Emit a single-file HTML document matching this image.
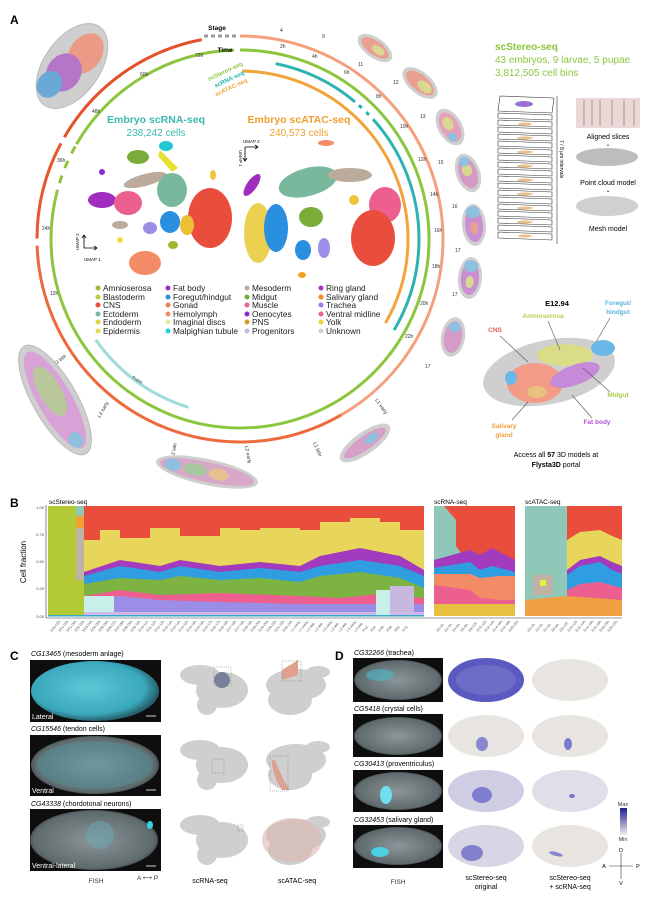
<!DOCTYPE html>
<html><head><meta charset="utf-8">
<style>
html,body{margin:0;padding:0;background:#fff;}
svg{display:block;font-family:"Liberation Sans",Arial,sans-serif;}
</style></head><body>
<svg width="650" height="902" viewBox="0 0 650 902" xmlns="http://www.w3.org/2000/svg">
<defs>
<radialGradient id="emb" cx="50%" cy="50%" r="50%"><stop offset="0" stop-color="#d8d8d8"/><stop offset="1" stop-color="#b8b8b8"/></radialGradient>
<radialGradient id="cy1" cx="45%" cy="45%" r="55%"><stop offset="0" stop-color="#5cc7d6"/><stop offset="0.8" stop-color="#3aa8bb"/><stop offset="1" stop-color="#26606c"/></radialGradient>
<radialGradient id="gr1" cx="50%" cy="50%" r="55%"><stop offset="0" stop-color="#8a9699"/><stop offset="0.85" stop-color="#5f6a6d"/><stop offset="1" stop-color="#2a2f31"/></radialGradient>
<linearGradient id="cbar" x1="0" y1="0" x2="0" y2="1"><stop offset="0" stop-color="#1e1e8c"/><stop offset="1" stop-color="#eeeeee"/></linearGradient>
</defs>

<!-- Panel A -->
<text x="10" y="24" font-size="12" font-weight="bold">A</text>

<g transform="translate(240,239) rotate(-90)" fill="none">
  <circle r="203" stroke="#f4a07c" stroke-width="3" stroke-dasharray="531.5 2000" stroke-dashoffset="0"/>
  <circle r="203" stroke="#ec6a3c" stroke-width="3" stroke-dasharray="418 2000" stroke-dashoffset="-531.5"/>
  <circle r="203" stroke="#e8572e" stroke-width="3" stroke-dasharray="99.2 2000" stroke-dashoffset="-956.6"/>
  <circle r="203" stroke="#e4502a" stroke-width="3" stroke-dasharray="173.6 2000" stroke-dashoffset="-1062.9"/>
  <circle r="189" stroke="#8cc63e" stroke-width="3" stroke-dasharray="940.1 2000" stroke-dashoffset="0"/>
  <circle r="189" stroke="#8cc63e" stroke-width="3" stroke-dasharray="191.3 2000" stroke-dashoffset="-989.6"/>
  <circle r="189" stroke="#8cc63e" stroke-width="3" stroke-dasharray="8 2000" stroke-dashoffset="-947"/>
  <circle r="189" stroke="#8cc63e" stroke-width="3" stroke-dasharray="8 2000" stroke-dashoffset="-963"/>
  <circle r="189" stroke="#8cc63e" stroke-width="3" stroke-dasharray="8 2000" stroke-dashoffset="-979"/>
  <circle r="179" stroke="#2bb3b1" stroke-width="3" stroke-dasharray="89 2000" stroke-dashoffset="-35.9"/>
  <circle r="179" stroke="#2bb3b1" stroke-width="3" stroke-dasharray="4 2000" stroke-dashoffset="-130"/>
  <circle r="179" stroke="#2bb3b1" stroke-width="3" stroke-dasharray="4 2000" stroke-dashoffset="-140"/>
  <circle r="179" stroke="#2bb3b1" stroke-width="3" stroke-dasharray="226.8 2000" stroke-dashoffset="-149.9"/>
  <circle r="168" stroke="#f2a33a" stroke-width="3" stroke-dasharray="349.8 2000" stroke-dashoffset="-2.05"/>
  <circle r="176" stroke="#9ddcd8" stroke-width="3" stroke-dasharray="116.7 2000" stroke-dashoffset="-605.1"/>
</g>
<line x1="204" y1="36" x2="238" y2="36" stroke="#999" stroke-width="3" stroke-dasharray="4 3"/>

<text x="217" y="30" font-size="6.5" font-weight="bold" text-anchor="middle">Stage</text>
<text x="225" y="52" font-size="6.5" font-weight="bold" text-anchor="middle">Time</text>
<text x="226" y="73" font-size="6" fill="#8cc63e" font-weight="bold" transform="rotate(-25 226 73)" text-anchor="middle">scStereo-seq</text>
<text x="230" y="81" font-size="6" fill="#2bb3b1" font-weight="bold" transform="rotate(-25 230 81)" text-anchor="middle">scRNA-seq</text>
<text x="232" y="89" font-size="6" fill="#f2a33a" font-weight="bold" transform="rotate(-25 232 89)" text-anchor="middle">scATAC-seq</text>

<g font-size="5" fill="#333">
<text x="280" y="48">2h</text><text x="312" y="58">4h</text><text x="344" y="74">6h</text><text x="376" y="98">8h</text>
<text x="400" y="128">10h</text><text x="418" y="161">12h</text><text x="430" y="196">14h</text><text x="434" y="232">16h</text>
<text x="432" y="268">18h</text><text x="420" y="305">20h</text><text x="405" y="338">22h</text>
<text x="57" y="162">36h</text><text x="42" y="230">24h</text><text x="50" y="295">12h</text><text x="92" y="113">48h</text><text x="140" y="76">60h</text><text x="195" y="57">72h</text>
<text x="280" y="32">4</text><text x="322" y="38">9</text><text x="358" y="66">11</text><text x="393" y="84">12</text><text x="420" y="118">13</text><text x="438" y="164">15</text><text x="452" y="208">16</text><text x="455" y="252">17</text><text x="452" y="296">17</text><text x="442" y="336">17</text><text x="425" y="368">17</text>
<text x="55" y="366" transform="rotate(-40 55 366)">L3 late</text>
<text x="100" y="418" transform="rotate(-60 100 418)">L3 early</text>
<text x="174" y="458" transform="rotate(-80 174 458)">L2 late</text>
<text x="245" y="446" transform="rotate(80 245 446)">L2 early</text>
<text x="313" y="443" transform="rotate(65 313 443)">L1 late</text>
<text x="375" y="400" transform="rotate(55 375 400)">L1 early</text>
<text x="132" y="378" transform="rotate(30 132 378)" font-size="4">Pupae</text>
</g>

<!-- embryos around circle -->
<g>
<g transform="translate(72,66) rotate(-55)"><ellipse rx="48" ry="28" fill="#cfcfcf" stroke="#bbb"/><ellipse cx="18" cy="4" rx="22" ry="16" fill="#ea9a85"/><ellipse cx="-10" cy="-3" rx="20" ry="17" fill="#b576c8"/><ellipse cx="-28" cy="-8" rx="14" ry="12" fill="#6aa9d6"/></g>
<g transform="translate(375,48) rotate(35)"><ellipse rx="20" ry="10" fill="#cfcfcf"/><ellipse rx="16" ry="7" fill="#e9a090"/><ellipse cx="4" rx="7" ry="4" fill="#d8d890"/></g>
<g transform="translate(420,83) rotate(40)"><ellipse rx="21" ry="11" fill="#cfcfcf"/><ellipse rx="17" ry="8" fill="#e9a090"/><ellipse cx="6" rx="8" ry="5" fill="#d8d890"/></g>
<g transform="translate(450,127) rotate(60)"><ellipse rx="20" ry="12" fill="#cfcfcf"/><ellipse rx="16" ry="9" fill="#e3a0b8"/><ellipse cx="-4" rx="7" ry="5" fill="#d8d890"/><ellipse cx="10" cy="3" rx="5" ry="4" fill="#8ec0e0"/></g>
<g transform="translate(468,173) rotate(70)"><ellipse rx="20" ry="12" fill="#cfcfcf"/><ellipse rx="16" ry="9" fill="#d49ac4"/><ellipse cx="-3" rx="6" ry="5" fill="#d8d890"/><ellipse cx="-12" rx="5" ry="5" fill="#8ec0e0"/></g>
<g transform="translate(474,225) rotate(85)"><ellipse rx="21" ry="12" fill="#cfcfcf"/><ellipse rx="17" ry="9" fill="#c98fd0"/><ellipse cx="-13" rx="6" ry="7" fill="#8ec0e0"/><ellipse cx="3" rx="6" ry="4" fill="#e8a090"/></g>
<g transform="translate(470,278) rotate(95)"><ellipse rx="21" ry="12" fill="#cfcfcf"/><ellipse rx="17" ry="9" fill="#c98fd0"/><ellipse cx="-12" rx="6" ry="7" fill="#8ec0e0"/><ellipse cx="4" rx="6" ry="4" fill="#d8d890"/></g>
<g transform="translate(453,337) rotate(100)"><ellipse rx="20" ry="12" fill="#cfcfcf"/><ellipse rx="16" ry="9" fill="#d59ac8"/><ellipse cx="-10" rx="5" ry="6" fill="#8ec0e0"/></g>
<g transform="translate(365,443) rotate(-35)"><ellipse rx="30" ry="11" fill="#cfcfcf"/><ellipse rx="25" ry="7" fill="#d8a0c8"/><ellipse cx="8" rx="8" ry="4" fill="#8ec0e0"/></g>
<g transform="translate(207,472) rotate(12)"><ellipse rx="52" ry="13" fill="#cfcfcf"/><ellipse rx="48" ry="10" fill="#d8a8c8"/><ellipse cx="-12" rx="12" ry="6" fill="#a8c8a0"/><ellipse cx="12" rx="10" ry="6" fill="#e8c090"/><ellipse cx="-35" rx="8" ry="6" fill="#8ec0e0"/></g>
<g transform="translate(55,400) rotate(60)"><ellipse rx="62" ry="22" fill="#cfcfcf" stroke="#bbb"/><ellipse rx="55" ry="17" fill="#d9a2d6"/><ellipse cx="-10" rx="28" ry="11" fill="#b8c89a"/><ellipse cx="45" cy="2" rx="8" ry="7" fill="#8ec0e0"/></g>
</g>

<!-- scRNA / scATAC titles -->
<text x="156" y="123" font-size="10.5" font-weight="bold" fill="#3bb8b0" text-anchor="middle">Embryo scRNA-seq</text>
<text x="156" y="136" font-size="10" fill="#3bb8b0" text-anchor="middle">238,242 cells</text>
<text x="299" y="123" font-size="10.5" font-weight="bold" fill="#f0a030" text-anchor="middle">Embryo scATAC-seq</text>
<text x="299" y="136" font-size="10" fill="#f0a030" text-anchor="middle">240,573 cells</text>

<!-- scRNA UMAP -->
<g>
<ellipse cx="138" cy="157" rx="11" ry="7" fill="#7aac3a"/>
<ellipse cx="166" cy="146" rx="7" ry="5" fill="#21c8d3"/>
<path d="M160 150 L178 168 L172 172 L158 156Z" fill="#e8e030"/>
<ellipse cx="145" cy="180" rx="22" ry="6" fill="#bcab9c" transform="rotate(-15 145 180)"/>
<ellipse cx="172" cy="190" rx="15" ry="17" fill="#7ab89e"/>
<ellipse cx="102" cy="200" rx="14" ry="8" fill="#a02dbd"/>
<ellipse cx="128" cy="203" rx="14" ry="12" fill="#ec5f90"/>
<ellipse cx="210" cy="218" rx="22" ry="30" fill="#e94e3c"/>
<ellipse cx="170" cy="222" rx="10" ry="11" fill="#2b8fe0"/>
<ellipse cx="187" cy="225" rx="7" ry="10" fill="#ecc035"/>
<ellipse cx="150" cy="228" rx="7" ry="6" fill="#9c8ee6"/>
<ellipse cx="120" cy="225" rx="8" ry="4" fill="#bcab9c"/>
<ellipse cx="145" cy="263" rx="16" ry="12" fill="#f38c66"/>
<ellipse cx="173" cy="245" rx="5" ry="4" fill="#a2b832"/>
<ellipse cx="102" cy="172" rx="3" ry="3" fill="#8b2bd1"/>
<ellipse cx="213" cy="175" rx="3" ry="5" fill="#f4c23c"/>
<ellipse cx="120" cy="240" rx="3" ry="3" fill="#e8e050"/>
</g>
<g stroke="#000" stroke-width="0.8" fill="none"><path d="M84 235 V248 H97"/><path d="M82 238 L84 235 L86 238 M94 246 L97 248 L94 250"/></g>
<text x="79" y="250" font-size="4.5" transform="rotate(-90 79 250)">UMAP 2</text>
<text x="84" y="261" font-size="4.5">UMAP 1</text>
<!-- scATAC UMAP -->
<g>
<ellipse cx="252" cy="185" rx="5" ry="13" fill="#a02dbd" transform="rotate(35 252 185)"/>
<ellipse cx="326" cy="143" rx="8" ry="3" fill="#f38c66"/>
<ellipse cx="308" cy="182" rx="30" ry="14" fill="#7ab89e" transform="rotate(-15 308 182)"/>
<ellipse cx="350" cy="175" rx="22" ry="7" fill="#bcab9c"/>
<ellipse cx="385" cy="205" rx="16" ry="18" fill="#ec5f90"/>
<ellipse cx="258" cy="233" rx="14" ry="30" fill="#ecd050"/>
<ellipse cx="276" cy="228" rx="12" ry="24" fill="#2b8fe0"/>
<ellipse cx="311" cy="217" rx="12" ry="10" fill="#7aac3a"/>
<ellipse cx="373" cy="238" rx="22" ry="28" fill="#e94e3c"/>
<ellipse cx="303" cy="250" rx="8" ry="10" fill="#2b8fe0"/>
<ellipse cx="324" cy="248" rx="6" ry="10" fill="#9c8ee6"/>
<ellipse cx="302" cy="275" rx="4" ry="3" fill="#f4a020"/>
<ellipse cx="354" cy="200" rx="5" ry="5" fill="#f4c23c"/>
</g>
<g stroke="#000" stroke-width="0.8" fill="none"><path d="M245 147 H258 M245 147 V161"/><path d="M255 145 L258 147 L255 149 M243 158 L245 161 L247 158"/></g>
<text x="243" y="143" font-size="4.5">UMAP 2</text>
<text x="239" y="150" font-size="4.5" transform="rotate(90 239 150)">UMAP 1</text>

<!-- legend -->
<g font-size="8.3" fill="#222">
<circle cx="98" cy="288" r="2.5" fill="#a2b832"/><text x="103" y="291">Amnioserosa</text>
<circle cx="98" cy="297" r="2.5" fill="#bccd3a"/><text x="103" y="300">Blastoderm</text>
<circle cx="98" cy="305" r="2.5" fill="#e94e3c"/><text x="103" y="308">CNS</text>
<circle cx="98" cy="314" r="2.5" fill="#7ab89e"/><text x="103" y="317">Ectoderm</text>
<circle cx="98" cy="322" r="2.5" fill="#d6d640"/><text x="103" y="325">Endoderm</text>
<circle cx="98" cy="331" r="2.5" fill="#e8d85a"/><text x="103" y="334">Epidermis</text>
<circle cx="168" cy="288" r="2.5" fill="#a02dbd"/><text x="173" y="291">Fat body</text>
<circle cx="168" cy="297" r="2.5" fill="#2b8fe0"/><text x="173" y="300">Foregut/hindgut</text>
<circle cx="168" cy="305" r="2.5" fill="#e8865a"/><text x="173" y="308">Gonad</text>
<circle cx="168" cy="314" r="2.5" fill="#f38c66"/><text x="173" y="317">Hemolymph</text>
<circle cx="168" cy="322" r="2.5" fill="#e8e8a8"/><text x="173" y="325">Imaginal discs</text>
<circle cx="168" cy="331" r="2.5" fill="#21d3d3"/><text x="173" y="334">Malpighian tubule</text>
<circle cx="247" cy="288" r="2.5" fill="#bcab9c"/><text x="252" y="291">Mesoderm</text>
<circle cx="247" cy="297" r="2.5" fill="#7aac3a"/><text x="252" y="300">Midgut</text>
<circle cx="247" cy="305" r="2.5" fill="#ec5f90"/><text x="252" y="308">Muscle</text>
<circle cx="247" cy="314" r="2.5" fill="#8b2bd1"/><text x="252" y="317">Oenocytes</text>
<circle cx="247" cy="322" r="2.5" fill="#d4a020"/><text x="252" y="325">PNS</text>
<circle cx="247" cy="331" r="2.5" fill="#c8b8e8"/><text x="252" y="334">Progenitors</text>
<circle cx="321" cy="288" r="2.5" fill="#b030c8"/><text x="326" y="291">Ring gland</text>
<circle cx="321" cy="297" r="2.5" fill="#f08a20"/><text x="326" y="300">Salivary gland</text>
<circle cx="321" cy="305" r="2.5" fill="#9c7ee6"/><text x="326" y="308">Trachea</text>
<circle cx="321" cy="314" r="2.5" fill="#ec5f8e"/><text x="326" y="317">Ventral midline</text>
<circle cx="321" cy="322" r="2.5" fill="#e8d83a"/><text x="326" y="325">Yolk</text>
<circle cx="321" cy="331" r="2.5" fill="#c8d8d0"/><text x="326" y="334">Unknown</text>
</g>

<!-- scStereo info -->
<text x="495" y="50" font-size="10" font-weight="bold" fill="#8cc63e">scStereo-seq</text>
<text x="495" y="63" font-size="10" fill="#8cc63e">43 embryos, 9 larvae, 5 pupae</text>
<text x="495" y="76" font-size="10" fill="#8cc63e">3,812,505 cell bins</text>
<g stroke="#333" stroke-width="0.6" fill="#fff">
<polygon points="500,96 554,98 552,113 498,111"/>
<polygon points="498,113 552,115 552,120 498,118"/><polygon points="498,120 552,122 552,127 498,125"/>
<polygon points="498,127 552,129 552,134 498,132"/><polygon points="498,134 552,136 552,141 498,139"/>
<polygon points="498,141 552,143 552,148 498,146"/><polygon points="498,148 552,150 552,155 498,153"/>
<polygon points="498,155 552,157 552,162 498,160"/><polygon points="498,162 552,164 552,169 498,167"/>
<polygon points="498,169 552,171 552,176 498,174"/><polygon points="498,176 552,178 552,183 498,181"/>
<polygon points="498,183 552,185 552,190 498,188"/><polygon points="498,190 552,192 552,197 498,195"/>
<polygon points="498,197 552,199 552,204 498,202"/><polygon points="498,204 552,206 552,211 498,209"/>
<polygon points="498,211 552,213 552,218 498,216"/><polygon points="498,218 552,220 552,225 498,223"/>
<polygon points="498,225 552,227 552,232 498,230"/><polygon points="498,232 552,234 552,240 498,238"/>
</g>
<ellipse cx="524" cy="104" rx="9" ry="3" fill="#9a70d0"/>
<g fill="#e8b070" opacity="0.8">
<ellipse cx="525" cy="124" rx="7" ry="1.5"/><ellipse cx="525" cy="138" rx="8" ry="1.5"/><ellipse cx="525" cy="152" rx="8" ry="1.5"/><ellipse cx="525" cy="166" rx="8" ry="1.5"/><ellipse cx="525" cy="180" rx="8" ry="1.5"/><ellipse cx="525" cy="194" rx="8" ry="1.5"/><ellipse cx="525" cy="208" rx="8" ry="1.5"/><ellipse cx="525" cy="222" rx="8" ry="1.5"/><ellipse cx="525" cy="236" rx="7" ry="1.5"/>
</g>
<line x1="557" y1="96" x2="557" y2="244" stroke="#333" stroke-width="0.6"/>
<text x="560" y="140" font-size="5" transform="rotate(90 560 140)">7 / 8 μm intervals</text>
<rect x="576" y="98" width="64" height="30" fill="#e8d8d8"/>
<g stroke="#c05050" stroke-width="1" opacity="0.6"><line x1="584" y1="100" x2="584" y2="126"/><line x1="592" y1="100" x2="592" y2="126"/><line x1="600" y1="100" x2="600" y2="126"/><line x1="612" y1="100" x2="612" y2="126"/><line x1="624" y1="100" x2="624" y2="126"/><line x1="634" y1="100" x2="634" y2="126"/></g>
<text x="608" y="139" font-size="7" text-anchor="middle">Aligned slices</text>
<text x="608" y="146" font-size="6" text-anchor="middle">⌄</text>
<ellipse cx="607" cy="157" rx="31" ry="9" fill="#bdbdbd"/>
<text x="608" y="185" font-size="7" text-anchor="middle">Point cloud model</text>
<text x="608" y="192" font-size="6" text-anchor="middle">⌄</text>
<ellipse cx="607" cy="206" rx="31" ry="10" fill="#d0d0d0"/>
<text x="608" y="231" font-size="7" text-anchor="middle">Mesh model</text>

<!-- 3D model -->
<text x="557" y="306" font-size="7.5" font-weight="bold" text-anchor="middle">E12.94</text>
<text x="618" y="305" font-size="6.5" font-weight="bold" fill="#5ab4e0" text-anchor="middle">Foregut/</text>
<text x="618" y="314" font-size="6.5" font-weight="bold" fill="#5ab4e0" text-anchor="middle">hindgut</text>
<text x="543" y="318" font-size="6.5" font-weight="bold" fill="#b8d050" text-anchor="middle">Amnioserosa</text>
<text x="495" y="332" font-size="6.5" font-weight="bold" fill="#e8604a" text-anchor="middle">CNS</text>
<ellipse cx="549" cy="372" rx="67" ry="32" fill="#cfcfcf" transform="rotate(-12 549 372)"/>
<ellipse cx="535" cy="383" rx="28" ry="20" fill="#f39b86"/>
<ellipse cx="565" cy="355" rx="28" ry="11" fill="#dadc88"/>
<ellipse cx="575" cy="375" rx="26" ry="10" fill="#c58ad8" transform="rotate(-20 575 375)"/>
<ellipse cx="603" cy="348" rx="12" ry="8" fill="#6bb8e8"/>
<ellipse cx="511" cy="378" rx="6" ry="7" fill="#6bb8e8"/>
<ellipse cx="537" cy="392" rx="10" ry="6" fill="#e8c080"/>
<g stroke="#555" stroke-width="0.6"><line x1="500" y1="336" x2="528" y2="362"/><line x1="548" y1="321" x2="560" y2="350"/><line x1="610" y1="318" x2="596" y2="342"/><line x1="610" y1="392" x2="583" y2="368"/><line x1="592" y1="418" x2="572" y2="395"/><line x1="512" y1="420" x2="528" y2="402"/></g>
<text x="618" y="397" font-size="6.5" font-weight="bold" fill="#a8c850" text-anchor="middle">Midgut</text>
<text x="597" y="424" font-size="6.5" font-weight="bold" fill="#b050d0" text-anchor="middle">Fat body</text>
<text x="504" y="428" font-size="6.5" font-weight="bold" fill="#f0a040" text-anchor="middle">Salivary</text>
<text x="504" y="437" font-size="6.5" font-weight="bold" fill="#f0a040" text-anchor="middle">gland</text>
<text x="556" y="457" font-size="7" text-anchor="middle">Access all <tspan font-weight="bold">57</tspan> 3D models at</text>
<text x="556" y="467" font-size="7" text-anchor="middle"><tspan font-weight="bold">Flysta3D</tspan> portal</text>

<!-- Panel B -->
<text x="10" y="507" font-size="12" font-weight="bold">B</text>
<text x="49" y="504" font-size="6.5">scStereo-seq</text>
<text x="434" y="504" font-size="6.5">scRNA-seq</text>
<text x="525" y="504" font-size="6.5">scATAC-seq</text>
<text x="26" y="562" font-size="8" text-anchor="middle" transform="rotate(-90 26 562)">Cell fraction</text>
<g font-size="4" fill="#444" text-anchor="end"><text x="44" y="509">1.00</text><text x="44" y="536">0.75</text><text x="44" y="563">0.50</text><text x="44" y="590">0.25</text><text x="44" y="618">0.00</text></g>
<line x1="46" y1="505" x2="46" y2="618" stroke="#333" stroke-width="0.6"/>
<line x1="46" y1="618" x2="622" y2="618" stroke="#333" stroke-width="0.6"/>
<!-- stereo -->
<rect x="48" y="506" width="28" height="110" fill="#b3c935"/>
<rect x="76" y="506" width="8" height="10" fill="#8fc8b8"/><rect x="76" y="516" width="8" height="12" fill="#f0a030"/><rect x="76" y="528" width="8" height="52" fill="#bfb3a3"/><rect x="76" y="580" width="8" height="36" fill="#b3c935"/>
<rect x="84" y="506" width="340" height="110" fill="#e8d65c"/>
<path d="M84 506 H424 V530 L400 530 V522 L380 522 V518 L350 518 V522 L320 522 V530 L300 530 V528 L260 528 V530 L240 530 V528 L220 528 V536 L180 536 V528 L150 528 V538 L120 538 V530 L100 530 V540 L84 540Z" fill="#e94e3c"/>
<path d="M84 572 L120 560 L160 566 L180 560 L220 566 L260 562 L300 566 L320 556 L360 548 L400 556 L424 570 V598 H84Z" fill="#a23bbd"/>
<path d="M84 576 L120 566 L160 572 L180 566 L220 572 L260 568 L300 572 L320 566 L360 560 L400 566 L424 576 V598 H84Z" fill="#2f9ee0"/>
<path d="M84 584 L120 578 L160 580 L180 576 L220 580 L260 578 L300 582 L320 576 L360 572 L400 578 L424 588 V600 H84Z" fill="#7cb342"/>
<path d="M84 596 L120 590 L160 595 L220 593 L300 596 L340 598 L380 594 L424 598 V608 H84Z" fill="#ec5f8e"/>
<path d="M84 600 L120 596 L160 600 L220 602 L300 604 L424 604 V612 H84Z" fill="#9c8ee6"/>
<rect x="84" y="596" width="30" height="20" fill="#c8f0e8"/>
<rect x="84" y="612" width="340" height="4" fill="#d0b8e8"/>
<rect x="376" y="590" width="14" height="26" fill="#c8f0e8"/>
<rect x="390" y="586" width="24" height="26" fill="#c8b8e0"/>
<rect x="48" y="615" width="376" height="1.5" fill="#3aa8d0"/>
<!-- scRNA -->
<rect x="434" y="506" width="81" height="110" fill="#e94e3c"/>
<path d="M434 506 H444 L456 520 V546 L466 560 H434Z" fill="#8fc8b8"/>
<path d="M434 560 L470 550 L480 555 L492 548 L515 560 V616 H434Z" fill="#a23bbd"/>
<path d="M434 568 L470 562 L480 570 L492 566 L515 572 V616 H434Z" fill="#2f9ee0"/>
<path d="M434 574 L470 574 L480 578 L500 576 L515 576 V616 H434Z" fill="#f38c66"/>
<path d="M434 585 L470 590 L480 598 L500 600 L515 600 V616 H434Z" fill="#ec5f8e"/>
<path d="M434 604 H515 V616 H434Z" fill="#e8c040"/>
<!-- scATAC -->
<rect x="525" y="506" width="97" height="110" fill="#e94e3c"/>
<rect x="525" y="506" width="42" height="104" fill="#8fc8b8"/>
<path d="M567 540 L580 532 L600 530 L612 536 L622 540 V616 H567Z" fill="#e8d65c"/>
<path d="M567 570 L580 560 L600 556 L612 562 L622 566 V616 H567Z" fill="#a23bbd"/>
<path d="M567 575 L580 566 L600 562 L612 570 L622 574 V616 H567Z" fill="#2f9ee0"/>
<path d="M567 590 L580 584 L600 582 L622 588 V616 H567Z" fill="#ec5f8e"/>
<path d="M525 600 L567 596 L622 600 V616 H525Z" fill="#f0a040"/>
<rect x="533" y="575" width="20" height="20" fill="#bfb3a3"/>
<rect x="540" y="580" width="6" height="6" fill="#e8f040"/>
<g font-size="3.6" fill="#555">
<text transform="translate(52,632) rotate(-50)">E00-02h</text><text transform="translate(60,632) rotate(-50)">E01-03h</text><text transform="translate(68,632) rotate(-50)">E01-06h</text><text transform="translate(76,632) rotate(-50)">E02-03h</text><text transform="translate(84,632) rotate(-50)">E03-04h</text><text transform="translate(92,632) rotate(-50)">E04-05h</text><text transform="translate(100,632) rotate(-50)">E05-06h</text><text transform="translate(108,632) rotate(-50)">E06-07h</text><text transform="translate(116,632) rotate(-50)">E07-08h</text><text transform="translate(124,632) rotate(-50)">E08-09h</text><text transform="translate(132,632) rotate(-50)">E09-10h</text><text transform="translate(140,632) rotate(-50)">E10-11h</text><text transform="translate(148,632) rotate(-50)">E11-12h</text><text transform="translate(156,632) rotate(-50)">E12-13h</text><text transform="translate(164,632) rotate(-50)">E12-14h</text><text transform="translate(172,632) rotate(-50)">E13-14h</text><text transform="translate(180,632) rotate(-50)">E14-15h</text><text transform="translate(188,632) rotate(-50)">E14-16h</text><text transform="translate(196,632) rotate(-50)">E15-16h</text><text transform="translate(204,632) rotate(-50)">E15-17h</text><text transform="translate(212,632) rotate(-50)">E16-17h</text><text transform="translate(220,632) rotate(-50)">E16-18h</text><text transform="translate(228,632) rotate(-50)">E17-18h</text><text transform="translate(236,632) rotate(-50)">E17-19h</text><text transform="translate(244,632) rotate(-50)">E18-19h</text><text transform="translate(252,632) rotate(-50)">E18-20h</text><text transform="translate(260,632) rotate(-50)">E19-20h</text><text transform="translate(268,632) rotate(-50)">E20-22h</text><text transform="translate(276,632) rotate(-50)">E21-22h</text><text transform="translate(284,632) rotate(-50)">E22-24h</text><text transform="translate(292,632) rotate(-50)">L1-early</text><text transform="translate(300,632) rotate(-50)">L1-early</text><text transform="translate(308,632) rotate(-50)">L1-late</text><text transform="translate(316,632) rotate(-50)">L1-late</text><text transform="translate(324,632) rotate(-50)">L2-early</text><text transform="translate(332,632) rotate(-50)">L2-late</text><text transform="translate(340,632) rotate(-50)">L2-late</text><text transform="translate(348,632) rotate(-50)">L3-early</text><text transform="translate(356,632) rotate(-50)">L3-late</text><text transform="translate(364,632) rotate(-50)">P12</text><text transform="translate(372,632) rotate(-50)">P24</text><text transform="translate(380,632) rotate(-50)">P36</text><text transform="translate(388,632) rotate(-50)">P48</text><text transform="translate(396,632) rotate(-50)">P60</text><text transform="translate(404,632) rotate(-50)">P72</text>
<text transform="translate(438,632) rotate(-50)">E0-2h</text><text transform="translate(446,632) rotate(-50)">E2-4h</text><text transform="translate(454,632) rotate(-50)">E4-6h</text><text transform="translate(462,632) rotate(-50)">E6-8h</text><text transform="translate(470,632) rotate(-50)">E8-10h</text><text transform="translate(478,632) rotate(-50)">E10-12h</text><text transform="translate(486,632) rotate(-50)">E12-14h</text><text transform="translate(494,632) rotate(-50)">E14-16h</text><text transform="translate(502,632) rotate(-50)">E16-18h</text><text transform="translate(510,632) rotate(-50)">E20-22h</text>
<text transform="translate(529,632) rotate(-50)">E0-2h</text><text transform="translate(537,632) rotate(-50)">E2-4h</text><text transform="translate(545,632) rotate(-50)">E4-6h</text><text transform="translate(553,632) rotate(-50)">E6-8h</text><text transform="translate(561,632) rotate(-50)">E8-10h</text><text transform="translate(569,632) rotate(-50)">E10-12h</text><text transform="translate(577,632) rotate(-50)">E12-14h</text><text transform="translate(585,632) rotate(-50)">E14-16h</text><text transform="translate(593,632) rotate(-50)">E16-18h</text><text transform="translate(601,632) rotate(-50)">E18-20h</text><text transform="translate(609,632) rotate(-50)">E20-22h</text>
</g>

<!-- Panel C -->
<text x="10" y="660" font-size="12" font-weight="bold">C</text>
<text x="31" y="656" font-size="7"><tspan font-style="italic">CG13465</tspan> (mesoderm anlage)</text>
<rect x="30" y="660" width="131" height="62" fill="#0e0e0e"/>
<ellipse cx="95" cy="691" rx="64" ry="30" fill="url(#cy1)"/>
<text x="32" y="719" font-size="7" fill="#fff">Lateral</text>
<line x1="146" y1="716" x2="156" y2="716" stroke="#ccc" stroke-width="1"/>
<text x="31" y="731" font-size="7"><tspan font-style="italic">CG15546</tspan> (tendon cells)</text>
<rect x="30" y="735" width="131" height="61" fill="#0e0e0e"/>
<ellipse cx="95" cy="765" rx="64" ry="29" fill="url(#gr1)"/>
<ellipse cx="95" cy="765" rx="58" ry="24" fill="#4a9aa8" opacity="0.4"/>
<text x="32" y="793" font-size="7" fill="#fff">Ventral</text>
<line x1="146" y1="790" x2="156" y2="790" stroke="#ccc" stroke-width="1"/>
<text x="31" y="806" font-size="7"><tspan font-style="italic">CG43338</tspan> (chordotonal neurons)</text>
<rect x="30" y="809" width="131" height="62" fill="#0e0e0e"/>
<ellipse cx="94" cy="840" rx="64" ry="30" fill="url(#gr1)"/>
<ellipse cx="100" cy="835" rx="14" ry="14" fill="#6aa8b4" opacity="0.5"/>
<ellipse cx="150" cy="825" rx="3" ry="4" fill="#3cd0e0"/>
<text x="32" y="868" font-size="7" fill="#fff">Ventral-lateral</text>
<line x1="146" y1="866" x2="156" y2="866" stroke="#ccc" stroke-width="1"/>
<text x="96" y="883" font-size="6.5" fill="#333" text-anchor="middle">FISH</text>
<text x="137" y="880" font-size="6.5" fill="#333">A ⟷ P</text>
<g fill="#cfcfcf">
<g transform="translate(0,0)"><ellipse cx="200" cy="675" rx="20" ry="10"/><ellipse cx="222" cy="690" rx="26" ry="18"/><ellipse cx="207" cy="705" rx="10" ry="10"/></g>
<g transform="translate(0,75)"><ellipse cx="200" cy="675" rx="20" ry="10"/><ellipse cx="222" cy="690" rx="26" ry="18"/><ellipse cx="207" cy="705" rx="10" ry="10"/></g>
<g transform="translate(0,150)"><ellipse cx="200" cy="675" rx="20" ry="10"/><ellipse cx="222" cy="690" rx="26" ry="18"/><ellipse cx="207" cy="705" rx="10" ry="10"/></g>
<g transform="translate(0,0)"><ellipse cx="296" cy="685" rx="30" ry="16"/><ellipse cx="290" cy="700" rx="22" ry="15"/><ellipse cx="318" cy="672" rx="12" ry="6"/></g>
<g transform="translate(0,75)"><ellipse cx="296" cy="685" rx="30" ry="16"/><ellipse cx="290" cy="700" rx="22" ry="15"/><ellipse cx="318" cy="672" rx="12" ry="6"/></g>
<g transform="translate(0,150)"><ellipse cx="296" cy="685" rx="30" ry="16"/><ellipse cx="290" cy="700" rx="22" ry="15"/><ellipse cx="318" cy="672" rx="12" ry="6"/></g>
</g>
<ellipse cx="222" cy="680" rx="8" ry="8" fill="#7a7f9a"/>
<rect x="214" y="667" width="17" height="19" fill="none" stroke="#777" stroke-width="0.5" stroke-dasharray="1 1"/>
<path d="M282 670 L298 660 L298 675 L282 680Z" fill="#e0a090"/>
<rect x="282" y="661" width="19" height="20" fill="none" stroke="#777" stroke-width="0.5" stroke-dasharray="1 1"/>
<rect x="212" y="759" width="12" height="14" fill="none" stroke="#777" stroke-width="0.5" stroke-dasharray="1 1"/>
<path d="M275 760 Q285 785 290 790 L282 790 Q272 775 272 760Z" fill="#dca090"/>
<rect x="270" y="756" width="18" height="35" fill="none" stroke="#777" stroke-width="0.5" stroke-dasharray="1 1"/>
<ellipse cx="292" cy="840" rx="30" ry="22" fill="#dcb8b0" opacity="0.6"/>
<rect x="238" y="825" width="5" height="6" fill="none" stroke="#777" stroke-width="0.5" stroke-dasharray="1 1"/>
<text x="210" y="883" font-size="7" text-anchor="middle">scRNA-seq</text>
<text x="297" y="883" font-size="7" text-anchor="middle">scATAC-seq</text>

<!-- Panel D -->
<text x="335" y="660" font-size="12" font-weight="bold">D</text>
<text x="354" y="655" font-size="7"><tspan font-style="italic">CG32266</tspan> (trachea)</text>
<text x="354" y="711" font-size="7"><tspan font-style="italic">CG5418</tspan> (crystal cells)</text>
<text x="354" y="766" font-size="7"><tspan font-style="italic">CG30413</tspan> (proventriculus)</text>
<text x="354" y="822" font-size="7"><tspan font-style="italic">CG32453</tspan> (salivary gland)</text>
<g>
<rect x="353" y="658" width="90" height="44" fill="#0e0e0e"/><ellipse cx="398" cy="680" rx="44" ry="20" fill="url(#gr1)"/><ellipse cx="380" cy="675" rx="14" ry="6" fill="#4ab8c8" opacity="0.6"/>
<rect x="353" y="714" width="90" height="43" fill="#0e0e0e"/><ellipse cx="398" cy="736" rx="44" ry="19" fill="url(#gr1)"/>
<rect x="353" y="770" width="90" height="42" fill="#0e0e0e"/><ellipse cx="398" cy="791" rx="44" ry="19" fill="url(#gr1)"/><ellipse cx="386" cy="795" rx="6" ry="9" fill="#70e0f0"/>
<rect x="353" y="825" width="90" height="43" fill="#0e0e0e"/><ellipse cx="398" cy="846" rx="44" ry="19" fill="url(#gr1)"/><ellipse cx="380" cy="852" rx="9" ry="5" fill="#4ad0e0"/>
</g>
<g fill="#e8e4e0">
<ellipse cx="486" cy="680" rx="38" ry="22" fill="#5a5ac0"/>
<ellipse cx="570" cy="680" rx="38" ry="21"/>
<ellipse cx="486" cy="736" rx="38" ry="21"/>
<ellipse cx="570" cy="736" rx="38" ry="21"/>
<ellipse cx="486" cy="791" rx="38" ry="21" fill="#cfcde4"/>
<ellipse cx="570" cy="791" rx="38" ry="21" fill="#e0dee8"/>
<ellipse cx="486" cy="846" rx="38" ry="21" fill="#d8d6e4"/>
<ellipse cx="570" cy="846" rx="38" ry="21"/>
</g>
<ellipse cx="486" cy="680" rx="30" ry="15" fill="#8080d0" opacity="0.5"/>
<ellipse cx="482" cy="744" rx="6" ry="7" fill="#6060c8" opacity="0.7"/>
<ellipse cx="568" cy="744" rx="4" ry="6" fill="#5050c0" opacity="0.7"/>
<ellipse cx="482" cy="795" rx="10" ry="8" fill="#4848c0" opacity="0.6"/>
<ellipse cx="572" cy="796" rx="3" ry="2" fill="#4848c0" opacity="0.7"/>
<ellipse cx="472" cy="853" rx="11" ry="8" fill="#4848c0" opacity="0.6"/>
<ellipse cx="556" cy="854" rx="7" ry="2" fill="#4848c0" opacity="0.6" transform="rotate(15 556 854)"/>
<rect x="620" y="808" width="7" height="27" fill="url(#cbar)"/>
<text x="623" y="806" font-size="5.5" text-anchor="middle" fill="#333">Max</text>
<text x="623" y="841" font-size="5.5" text-anchor="middle" fill="#333">Min</text>
<g stroke="#333" stroke-width="0.6"><line x1="609" y1="866" x2="633" y2="866"/><line x1="621" y1="853" x2="621" y2="879"/></g>
<text x="621" y="852" font-size="5.5" text-anchor="middle">D</text>
<text x="621" y="885" font-size="5.5" text-anchor="middle">V</text>
<text x="604" y="868" font-size="5.5" text-anchor="middle">A</text>
<text x="638" y="868" font-size="5.5" text-anchor="middle">P</text>
<text x="398" y="884" font-size="6.5" text-anchor="middle" fill="#333">FISH</text>
<text x="486" y="880" font-size="7" text-anchor="middle">scStereo-seq</text>
<text x="486" y="889" font-size="7" text-anchor="middle">original</text>
<text x="570" y="880" font-size="7" text-anchor="middle">scStereo-seq</text>
<text x="570" y="889" font-size="7" text-anchor="middle">+ scRNA-seq</text>
</svg>
</body></html>
